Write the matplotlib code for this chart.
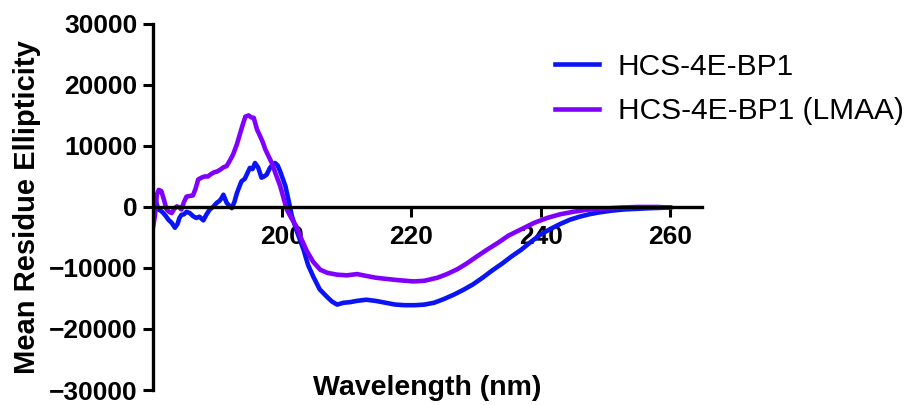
import numpy as np
import matplotlib.pyplot as plt

plt.rcParams['font.family'] = ['Liberation Sans', 'DejaVu Sans']

# wavelength (nm) / mean residue ellipticity
wl_wt = [180.0, 180.4, 180.8, 181.2, 181.6, 182.0, 182.4, 182.9, 183.4, 183.8,
         184.1, 184.4, 184.8, 185.2, 185.7, 186.2, 186.7, 187.2, 187.8, 188.3,
         188.8, 189.3, 189.9, 190.3, 190.6, 190.9, 191.4, 191.8, 192.2, 192.6,
         193.0, 193.4, 193.7, 194.2, 194.6, 195.0, 195.4, 195.8, 196.3, 196.8,
         197.2, 197.6, 198.1, 198.5, 198.9, 199.3, 199.7, 200.1, 200.5, 200.9,
         201.5, 202.2, 203.3, 204.0, 204.8, 205.8, 206.9, 207.7, 208.5, 209.5,
         210.5, 211.5, 213.0, 214.5, 216.0, 217.5, 219.0, 220.5, 222.0, 223.5,
         225.0, 226.5, 228.0, 229.5, 231.0, 232.5, 234.0, 235.5, 237.0, 238.5,
         240.0, 241.5, 243.0, 244.5, 246.0, 247.5, 249.0, 251.0, 253.0, 255.0,
         257.0, 260.0]
mre_wt = [1700, 1200, -400, -600, -1000, -1500, -2100, -2600, -3400, -2800,
          -1800, -1300, -1200, -800, -1000, -1500, -1800, -1600, -2200, -1200,
          -400, 0, 700, 1000, 1400, 2000, 700, 200, -200, 800,
          2300, 3400, 4200, 4600, 5500, 6400, 6200, 7200, 6400, 4800,
          5000, 5300, 6400, 6900, 7200, 6800, 5800, 4600, 3400, 1500,
          -1500, -3800, -7000, -9500, -11400, -13500, -14700, -15500, -16000, -15700,
          -15600, -15400, -15200, -15400, -15700, -16000, -16100, -16100, -16000, -15700,
          -15100, -14400, -13600, -12700, -11600, -10400, -9300, -8100, -7000, -5700,
          -4500, -3600, -2800, -2100, -1600, -1200, -900, -600, -400, -300,
          -200, -100]

wl_lmaa = [180.0, 180.3, 180.6, 180.9, 181.3, 181.7, 182.1, 182.5, 182.9, 183.3,
           183.7, 184.1, 184.4, 184.8, 185.2, 185.7, 186.2, 186.6, 187.0, 187.5,
           188.0, 188.5, 189.0, 189.5, 189.9, 190.4, 190.9, 191.4, 191.9, 192.4,
           193.0, 193.5, 193.9, 194.3, 194.8, 195.2, 195.6, 196.1, 196.5, 197.0,
           197.4, 197.9, 198.4, 199.0, 199.7, 200.2, 200.7, 201.4, 202.2, 203.0,
           203.8, 204.8, 205.9, 207.0, 208.5, 210.0, 211.6, 213.0, 214.5, 216.2,
           218.0, 220.3, 222.0, 224.0, 225.5, 227.1, 228.5, 230.0, 231.7, 233.5,
           235.0, 236.9, 239.0, 241.0, 243.0, 245.0, 247.2, 250.0, 252.5, 255.0,
           258.0, 260.0]
mre_lmaa = [-3400, -1500, 2000, 2800, 2600, 1200, -400, -800, -1000, -300,
            100, -100, -400, 800, 1700, 1800, 1900, 3000, 4500, 4800,
            5000, 5000, 5400, 5700, 5800, 6100, 6500, 6700, 7600, 8600,
            10300, 12100, 13500, 14800, 15000, 14700, 14600, 12700, 11800, 10600,
            9400, 8300, 7200, 5400, 3400, 1500, -400, -1800, -3200, -5300,
            -7200, -9000, -10300, -10800, -11100, -11200, -11000, -11300, -11600, -11800,
            -12000, -12200, -12100, -11600, -11000, -10200, -9300, -8200, -7000, -5800,
            -4700, -3700, -2600, -1800, -1200, -800, -450, -250, -100, 0,
            0, -100]

x_ticks = [200, 220, 240, 260]
y_ticks = [-30000, -20000, -10000, 0, 10000, 20000, 30000]

fig = plt.figure(figsize=(9.05, 4.05), dpi=100)
ax = fig.add_axes([0.169, 0.037, 0.607, 0.904])

ax.plot(wl_wt, mre_wt, color='#0a14f5', lw=3.3, label='HCS-4E-BP1')
ax.plot(wl_lmaa, mre_lmaa, color='#8000ff', lw=3.3, label='HCS-4E-BP1 (LMAA)')

ax.set_xlim(180, 265)
ax.set_ylim(-30000, 30000)
ax.spines['top'].set_visible(False)
ax.spines['right'].set_visible(False)
ax.spines['bottom'].set_position(('data', 0))
for s in ['left', 'bottom']:
    ax.spines[s].set_linewidth(2.4)

ax.set_xticks(x_ticks)
ax.set_yticks(y_ticks)
ax.tick_params(width=2.2, length=7, labelsize=19, direction='out')
ax.tick_params(axis='x', pad=6)
ax.tick_params(axis='y', pad=4)
for lab in ax.get_xticklabels() + ax.get_yticklabels():
    lab.set_fontweight('bold')

ax.set_xlabel('Wavelength (nm)', fontsize=20.5, fontweight='bold', va='center')
ax.xaxis.set_label_coords(0.5, 0.005)
ax.set_ylabel('Mean Residue Ellipticity', fontsize=21, fontweight='bold', va='center')
ax.yaxis.set_label_coords(-0.23, 0.5)

ax.legend(loc='center left', bbox_to_anchor=(0.597, 0.78), bbox_transform=fig.transFigure,
          frameon=False, fontsize=21.5, handlelength=1.45, handletextpad=0.65,
          labelspacing=0.55, borderpad=0)

fig.savefig('out.png', dpi=100)
